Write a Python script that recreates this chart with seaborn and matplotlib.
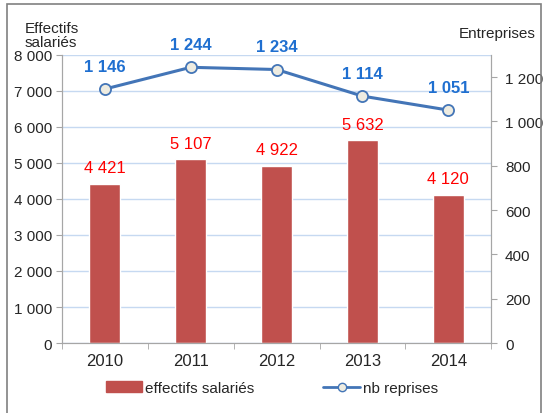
import pandas as pd
import matplotlib.pyplot as plt
import seaborn as sns
from matplotlib.lines import Line2D
from matplotlib.patches import Patch, Rectangle

# Données
annees = ['2010', '2011', '2012', '2013', '2014']
effectifs = [4421, 5107, 4922, 5632, 4120]
reprises = [1146, 1244, 1234, 1114, 1051]

dados = pd.DataFrame({'annee': annees, 'effectifs': effectifs, 'reprises': reprises})
dados['pos'] = range(len(annees))

def sep(v):
    return f'{int(v):,}'.replace(',', ' ')

sns.set_style('white')
plt.rcParams['font.family'] = ['Liberation Sans', 'DejaVu Sans']

fig = plt.figure(figsize=(5.44, 4.14), dpi=100)
ax = fig.add_axes([0.114, 0.169, 0.789, 0.696])

rouge = '#C0504D'
bleu = '#4375B7'
grille = '#C6D9F1'
gris = '#A6A6A6'

sns.barplot(data=dados, x='annee', y='effectifs', color=rouge, width=0.36,
            saturation=1, ax=ax, zorder=2)
ax.bar_label(ax.containers[0], labels=[sep(v) for v in effectifs], padding=6,
             color='#FF0000', fontsize=12)

ax.set_ylim(0, 8000)
ax.set_xlim(-0.5, 4.5)
ax.set_yticks(range(0, 8001, 1000))
ax.set_yticklabels([sep(v) for v in range(0, 8001, 1000)], fontsize=11)
ax.yaxis.grid(True, color=grille, linewidth=1)
ax.set_axisbelow(True)
ax.set_xlabel('')
ax.set_ylabel('')
ax.tick_params(axis='x', labelsize=12, length=4, color=gris, pad=7)
ax.tick_params(axis='y', length=4, color=gris, left=True, pad=3)
ax.set_xticks([-0.5, 0.5, 1.5, 2.5, 3.5, 4.5], minor=True)
ax.tick_params(axis='x', which='major', length=0)
ax.tick_params(axis='x', which='minor', length=4, color=gris, bottom=True)
for s in ['left', 'bottom', 'right']:
    ax.spines[s].set_color(gris)
ax.spines['top'].set_visible(False)

ax2 = ax.twinx()
sns.lineplot(data=dados, x='pos', y='reprises', color=bleu, linewidth=2.2,
             marker='o', markersize=8, markerfacecolor='#EEECE1',
             markeredgecolor=bleu, markeredgewidth=1.3, ax=ax2, zorder=3)
for x, y in zip(dados['pos'], reprises):
    ax2.annotate(sep(y), (x, y), xytext=(0, 11), textcoords='offset points',
                 ha='center', va='bottom', color='#1F6FD0', fontsize=12,
                 fontweight='bold')
ax2.set_ylim(0, 1300)
ax2.set_yticks(range(0, 1201, 200))
ax2.set_yticklabels([sep(v) for v in range(0, 1201, 200)], fontsize=11)
ax2.set_ylabel('')
ax2.tick_params(axis='y', length=4, color=gris, right=True, pad=6)
for s in ['left', 'right', 'bottom']:
    ax2.spines[s].set_color(gris)
ax2.spines['top'].set_visible(False)
ax2.set_xlim(-0.5, 4.5)

fig.text(0.045, 0.886, 'Effectifs\nsalariés', fontsize=11, ha='left',
         va='baseline', linespacing=1.0)
fig.text(0.985, 0.908, 'Entreprises', fontsize=11, ha='right', va='baseline')

poignees = [Patch(color=rouge, label='effectifs salariés'),
            Line2D([], [], color=bleu, linewidth=2, marker='o', markersize=6,
                   markerfacecolor='#EEECE1', markeredgecolor=bleu,
                   label='nb reprises')]
fig.legend(handles=poignees, loc='lower center', bbox_to_anchor=(0.5, 0.01),
           ncol=2, frameon=False, fontsize=11, handlelength=2.4,
           columnspacing=4.5, handletextpad=0.2)

fig.add_artist(Rectangle((0.013, -0.01), 0.981, 0.998, fill=False,
                         edgecolor='#808080', linewidth=1.2,
                         transform=fig.transFigure))

fig.savefig('out.png', dpi=100)
